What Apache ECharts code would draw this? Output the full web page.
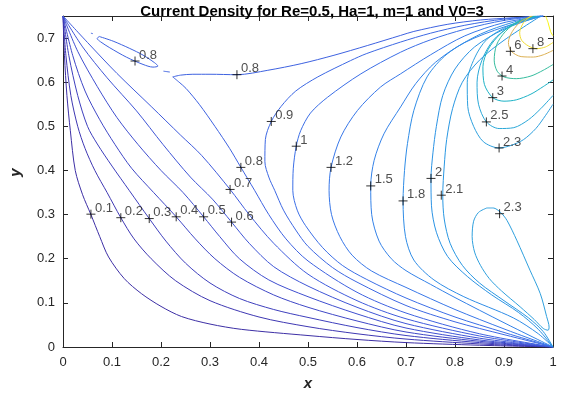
<!DOCTYPE html>
<html>
<head>
<meta charset="utf-8">
<script src="https://cdn.jsdelivr.net/npm/echarts@6/dist/echarts.min.js"></script>
<style>
  html, body { margin: 0; padding: 0; background: #fff; }
  #main { width: 562px; height: 396px; }
</style>
</head>
<body>
<div id="main"></div>
<script>
// contour lines, [x, y]
var c01 = [[0,0.75],[0.003,0.66],[0.008,0.57],[0.015,0.49],[0.025,0.40],[0.04,0.345],[0.057,0.30],[0.075,0.25],[0.093,0.204],[0.125,0.155],[0.16,0.121],[0.2,0.092],[0.242,0.069],[0.3,0.052],[0.364,0.04],[0.5,0.026],[0.6,0.017],[0.7,0.01],[0.85,0.004],[1,0]];
var c02 = [[0,0.75],[0.006,0.66],[0.016,0.57],[0.03,0.5],[0.045,0.45],[0.065,0.4],[0.09,0.35],[0.118,0.293],[0.145,0.245],[0.18,0.2],[0.23,0.15],[0.3,0.105],[0.4,0.068],[0.5,0.046],[0.6,0.03],[0.7,0.018],[0.85,0.007],[1,0]];
var c03 = [[0,0.75],[0.012,0.66],[0.03,0.57],[0.05,0.5],[0.07,0.46],[0.1,0.41],[0.135,0.355],[0.176,0.291],[0.21,0.24],[0.25,0.19],[0.3,0.145],[0.36,0.11],[0.43,0.085],[0.5,0.067],[0.6,0.044],[0.7,0.026],[0.85,0.01],[1,0]];
var c04 = [[0,0.75],[0.02,0.66],[0.045,0.58],[0.075,0.515],[0.106,0.459],[0.14,0.405],[0.185,0.35],[0.231,0.295],[0.27,0.245],[0.31,0.2],[0.36,0.158],[0.43,0.118],[0.5,0.09],[0.6,0.059],[0.7,0.034],[0.85,0.013],[1,0]];
var c05 = [[0,0.75],[0.03,0.67],[0.07,0.59],[0.11,0.52],[0.153,0.459],[0.2,0.4],[0.245,0.35],[0.287,0.295],[0.32,0.25],[0.36,0.2],[0.42,0.152],[0.5,0.114],[0.6,0.075],[0.7,0.043],[0.85,0.016],[1,0]];
var c06 = [[0,0.75],[0.04,0.68],[0.09,0.61],[0.15,0.535],[0.204,0.459],[0.26,0.385],[0.305,0.335],[0.344,0.283],[0.38,0.235],[0.43,0.182],[0.5,0.138],[0.6,0.09],[0.7,0.053],[0.85,0.02],[1,0]];
var c07 = [[0,0.75],[0.05,0.69],[0.11,0.62],[0.18,0.545],[0.24,0.48],[0.283,0.434],[0.341,0.357],[0.38,0.3],[0.43,0.235],[0.5,0.165],[0.6,0.105],[0.7,0.064],[0.85,0.025],[1,0]];
var c08a = [[0.224,0.612],[0.237,0.6],[0.251,0.586],[0.278,0.55],[0.31,0.5],[0.34,0.45],[0.363,0.407],[0.391,0.355],[0.42,0.3],[0.455,0.245],[0.5,0.195],[0.6,0.124],[0.7,0.077],[0.85,0.03],[1,0]];
var c08b = [[0.224,0.612],[0.24,0.616],[0.265,0.618],[0.3,0.618],[0.355,0.617],[0.418,0.627],[0.486,0.642],[0.553,0.661],[0.621,0.683],[0.689,0.706],[0.716,0.715],[0.784,0.731],[0.852,0.741],[0.919,0.746],[0.98,0.75]];
var c08c = [[0.0738,0.7036],[0.1023,0.693],[0.1362,0.6765],[0.1633,0.6614],[0.187,0.644],[0.1937,0.6365],[0.1836,0.6342],[0.1633,0.6403],[0.1294,0.6568],[0.0955,0.678],[0.0766,0.6916],[0.0698,0.699],[0.0738,0.7036]];
var c08d = [[0.057,0.711],[0.061,0.71]];
var c08e = [[0.205,0.625],[0.218,0.623]];
var c09 = [[0.98,0.75],[0.9,0.743],[0.82,0.729],[0.75,0.711],[0.689,0.691],[0.62,0.665],[0.587,0.649],[0.52,0.612],[0.475,0.58],[0.445,0.545],[0.425,0.511],[0.413,0.47],[0.412,0.42],[0.42,0.385],[0.432,0.355],[0.45,0.31],[0.475,0.265],[0.5,0.228],[0.55,0.18],[0.6,0.147],[0.7,0.094],[0.8,0.057],[0.9,0.028],[1,0]];
var c10 = [[0.98,0.75],[0.9,0.74],[0.82,0.72],[0.75,0.696],[0.689,0.668],[0.608,0.619],[0.54,0.566],[0.505,0.53],[0.485,0.49],[0.476,0.455],[0.47,0.405],[0.469,0.355],[0.478,0.31],[0.495,0.275],[0.53,0.225],[0.57,0.185],[0.62,0.153],[0.7,0.111],[0.8,0.068],[0.9,0.033],[1,0]];
var c12 = [[0.98,0.75],[0.9,0.735],[0.82,0.705],[0.75,0.662],[0.689,0.619],[0.648,0.589],[0.601,0.536],[0.567,0.476],[0.547,0.407],[0.543,0.355],[0.548,0.3],[0.565,0.25],[0.59,0.208],[0.63,0.172],[0.7,0.135],[0.8,0.085],[0.9,0.041],[1,0]];
var c15 = [[0.98,0.75],[0.9,0.725],[0.82,0.69],[0.76,0.645],[0.72,0.597],[0.689,0.544],[0.655,0.483],[0.635,0.423],[0.628,0.365],[0.63,0.3],[0.645,0.24],[0.67,0.2],[0.7,0.173],[0.75,0.142],[0.8,0.112],[0.9,0.055],[1,0]];
var c18 = [[0.975,0.75],[0.919,0.736],[0.852,0.709],[0.784,0.664],[0.743,0.612],[0.716,0.536],[0.703,0.461],[0.697,0.4],[0.694,0.331],[0.699,0.25],[0.716,0.197],[0.757,0.152],[0.818,0.114],[0.919,0.066],[0.97,0.03],[1,0]];
var c20 = [[0.975,0.75],[0.9,0.72],[0.84,0.68],[0.8,0.63],[0.775,0.57],[0.762,0.5],[0.755,0.44],[0.751,0.382],[0.752,0.32],[0.762,0.26],[0.785,0.205],[0.825,0.16],[0.875,0.118],[0.93,0.078],[0.97,0.04],[1,0]];
var c21 = [[0.975,0.75],[0.9,0.695],[0.85,0.65],[0.815,0.6],[0.795,0.54],[0.783,0.47],[0.778,0.41],[0.775,0.344],[0.778,0.29],[0.79,0.235],[0.815,0.185],[0.85,0.145],[0.9,0.105],[0.95,0.066],[0.98,0.035],[1,0]];
var c23a = [[0.865,0.315],[0.848,0.305],[0.838,0.285],[0.835,0.25],[0.84,0.215],[0.852,0.185],[0.87,0.155],[0.895,0.127],[0.933,0.091],[0.962,0.062],[0.98,0.042],[0.99,0.038],[0.992,0.045],[0.987,0.069],[0.974,0.121],[0.953,0.174],[0.926,0.242],[0.906,0.287],[0.893,0.305],[0.878,0.315],[0.865,0.315]];
var c23b = [[0.97,0.75],[0.91,0.728],[0.865,0.697],[0.84,0.655],[0.825,0.6],[0.826,0.545],[0.838,0.5],[0.858,0.465],[0.89,0.451],[0.915,0.457],[0.94,0.47],[0.965,0.495],[0.985,0.525],[1,0.55]];
var c25 = [[0.968,0.75],[0.915,0.728],[0.878,0.695],[0.855,0.65],[0.845,0.6],[0.848,0.55],[0.864,0.51],[0.89,0.495],[0.92,0.497],[0.95,0.515],[0.975,0.54],[1,0.57]];
var c30 = [[0.965,0.75],[0.925,0.735],[0.893,0.71],[0.868,0.675],[0.857,0.635],[0.86,0.595],[0.877,0.565],[0.9,0.557],[0.925,0.56],[0.955,0.573],[0.98,0.59],[1,0.605]];
var c40 = [[0.962,0.75],[0.93,0.738],[0.903,0.715],[0.885,0.685],[0.88,0.65],[0.886,0.625],[0.9,0.612],[0.925,0.608],[0.955,0.614],[0.98,0.627],[1,0.64]];
var c60 = [[0.958,0.75],[0.935,0.738],[0.917,0.715],[0.909,0.69],[0.915,0.67],[0.935,0.658],[0.96,0.657],[0.98,0.662],[1,0.672]];
var c80 = [[0.955,0.75],[0.94,0.735],[0.932,0.712],[0.936,0.695],[0.95,0.682],[0.967,0.676],[0.985,0.68],[1,0.69]];
var c100 = [[0.985,0.75],[0.99,0.735],[0.995,0.715],[1,0.705]];

// level -> line colour (parula-like)
var levelColors = {
  '0.1': '#3d2fa5', '0.2': '#3e37b2', '0.3': '#3e3fbd', '0.4': '#3f47c6', '0.5': '#3f4ecf',
  '0.6': '#3f55d6', '0.7': '#3f5bdc', '0.8': '#3e62e0', '0.9': '#3d68e3', '1': '#3b6ee6',
  '1.2': '#3877e8', '1.5': '#3482e8', '1.8': '#2f8ce6', '2': '#2b93e4', '2.1': '#2997e2',
  '2.3': '#2fa0de', '2.5': '#2ba8d8', '3': '#1db2c6', '4': '#35bc9e', '6': '#dcb052',
  '8': '#f0dc32', '10': '#f8f40e'
};

var contourLines = [
  ['0.1', c01], ['0.2', c02], ['0.3', c03], ['0.4', c04], ['0.5', c05], ['0.6', c06], ['0.7', c07],
  ['0.8', c08a], ['0.8', c08b], ['0.8', c08c], ['0.8', c08d], ['0.8', c08e],
  ['0.9', c09], ['1', c10], ['1.2', c12], ['1.5', c15], ['1.8', c18], ['2', c20], ['2.1', c21],
  ['2.3', c23a], ['2.3', c23b], ['2.5', c25], ['3', c30], ['4', c40], ['6', c60], ['8', c80], ['10', c100]
];

// clabel positions: [x, y, text]
var labels = [
  [0.057,0.301,'0.1'],[0.118,0.293,'0.2'],[0.176,0.291,'0.3'],[0.231,0.295,'0.4'],[0.287,0.295,'0.5'],
  [0.344,0.283,'0.6'],[0.341,0.357,'0.7'],[0.363,0.407,'0.8'],[0.147,0.648,'0.8'],[0.355,0.617,'0.8'],
  [0.425,0.511,'0.9'],[0.476,0.455,'1'],[0.547,0.407,'1.2'],[0.628,0.365,'1.5'],[0.694,0.331,'1.8'],
  [0.751,0.382,'2'],[0.772,0.344,'2.1'],[0.891,0.302,'2.3'],[0.890,0.451,'2.3'],[0.864,0.51,'2.5'],
  [0.877,0.565,'3'],[0.896,0.614,'4'],[0.913,0.67,'6'],[0.959,0.676,'8']
];

var dom = document.getElementById('main');
var myChart = echarts.init(dom, null, { renderer: 'canvas' });
var font = 'Liberation Sans, Arial, Helvetica, sans-serif';
var axisColor = '#262626';

var series = contourLines.map(function (c) {
  return {
    type: 'line',
    data: c[1],
    showSymbol: false,
    smooth: 0.3,
    clip: true,
    silent: true,
    lineStyle: { width: 1, color: levelColors[c[0]] },
    z: 2
  };
});

series.push({
  type: 'scatter',
  data: labels.map(function (l) { return { value: [l[0], l[1]], name: l[2] }; }),
  symbol: 'path://M0,5L10,5M5,0L5,10',
  symbolSize: 9,
  itemStyle: { color: 'none', borderColor: '#000', borderWidth: 1 },
  label: {
    show: true,
    position: 'right',
    distance: 0,
    offset: [-3, -6],
    formatter: function (p) { return p.name; },
    color: '#222',
    fontFamily: font,
    fontSize: 13
  },
  silent: true,
  z: 5
});

var tickStyle = { inside: true, length: 5, lineStyle: { color: axisColor } };

option = {
  animation: false,
  backgroundColor: '#fff',
  textStyle: { fontFamily: font },
  title: {
    text: 'Current Density for Re=0.5, Ha=1, m=1 and V0=3',
    left: 307,
    textAlign: 'center',
    top: -1,
    textStyle: { fontSize: 15, fontWeight: 'bold', color: '#000', fontFamily: font }
  },
  grid: { left: 61, right: 9, top: 16, bottom: 49, containLabel: false },
  xAxis: [
    {
      type: 'value', min: 0, max: 1, interval: 0.1,
      name: 'x', nameLocation: 'middle', nameGap: 29,
      nameTextStyle: { fontSize: 15, fontWeight: 'bold', fontStyle: 'italic', color: axisColor, fontFamily: font },
      axisLine: { show: true, onZero: false, lineStyle: { color: axisColor } },
      axisTick: tickStyle,
      axisLabel: { color: axisColor, fontSize: 13, margin: 9, fontFamily: font },
      splitLine: { show: false }
    },
    {
      type: 'value', position: 'top', min: 0, max: 1, interval: 0.1,
      axisLine: { show: true, onZero: false, lineStyle: { color: axisColor } },
      axisTick: tickStyle,
      axisLabel: { show: false },
      splitLine: { show: false }
    }
  ],
  yAxis: [
    {
      type: 'value', min: 0, max: 0.75, interval: 0.1,
      name: 'y', nameLocation: 'middle', nameGap: 40,
      nameTextStyle: { fontSize: 15, fontWeight: 'bold', fontStyle: 'italic', color: axisColor, fontFamily: font, padding: [0, 0, 0, 18] },
      axisLine: { show: true, onZero: false, lineStyle: { color: axisColor } },
      axisTick: tickStyle,
      axisLabel: { color: axisColor, fontSize: 13, margin: 8, showMaxLabel: false, fontFamily: font },
      splitLine: { show: false }
    },
    {
      type: 'value', position: 'right', min: 0, max: 0.75, interval: 0.1,
      axisLine: { show: true, onZero: false, lineStyle: { color: axisColor } },
      axisTick: tickStyle,
      axisLabel: { show: false },
      splitLine: { show: false }
    }
  ],
  series: series
};

if (option && typeof option === 'object') {
  myChart.setOption(option, true);
}
</script>
</body>
</html>
